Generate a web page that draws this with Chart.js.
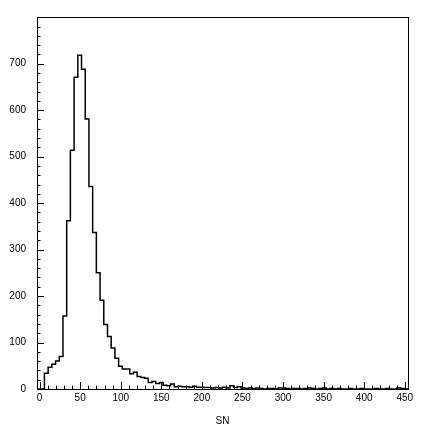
<!DOCTYPE html>
<html>
<head>
<meta charset="utf-8">
<script src="https://cdn.jsdelivr.net/npm/chart.js@4"></script>
<style>
  body { margin: 0; background: #fff; }
  #wrap { width: 432px; height: 430px; }
</style>
</head>
<body>
<div id="wrap"><canvas id="histo" width="432" height="430"></canvas></div>
<script>
// histogram binning (100 bins)
const xMin = -3.2;
const xMax = 454;
const nBins = 100;

// counts per bin
const counts = [
    0, 0, 34, 47, 53, 60, 70, 157, 362, 514,
    671, 718, 688, 581, 436, 337, 250, 191, 139, 113,
    88, 66, 49, 43, 43, 33, 36, 27, 25, 23,
    14, 16, 12, 14, 8, 7, 11, 5, 6, 5,
    5, 4, 6, 4, 4, 3, 3, 2, 3, 2,
    4, 2, 7, 3, 5, 2, 1, 2, 1, 2,
    1, 0, 1, 1, 0, 2, 2, 1, 0, 1,
    1, 0, 1, 2, 1, 0, 1, 2, 0, 1,
    0, 1, 0, 0, 1, 0, 0, 1, 0, 0,
    0, 1, 0, 0, 1, 0, 0, 2, 1, 0
];

const xTickLabels = [0, 50, 100, 150, 200, 250, 300, 350, 400, 450];
const yTickLabels = [0, 100, 200, 300, 400, 500, 600, 700];
const xTitle = 'SN';

const binWidth = (xMax - xMin) / nBins;
const points = counts.map((c, i) => ({ x: xMin + i * binWidth, y: c }));
points.push({ x: xMax, y: counts[counts.length - 1] });

const tickFont = { family: 'Liberation Sans, Arial, sans-serif', size: 10 };

// frame + inward ticks, ROOT style
const framePlugin = {
    id: 'frame',
    afterDraw(chart) {
        const ctx = chart.ctx;
        const a = chart.chartArea;
        const xs = chart.scales.x, ys = chart.scales.y;
        ctx.save();
        ctx.strokeStyle = '#000';
        ctx.lineWidth = 1;
        ctx.strokeRect(Math.round(a.left) + 0.5, Math.round(a.top) + 0.5,
            Math.round(a.right - a.left), Math.round(a.bottom - a.top));
        ctx.beginPath();
        for (let v = 0; v <= 450; v += 10) {
            const px = Math.round(xs.getPixelForValue(v)) + 0.5;
            const len = v % 50 === 0 ? 7 : 3.5;
            ctx.moveTo(px, a.bottom);
            ctx.lineTo(px, a.bottom - len);
        }
        for (let v = 0; v < 800; v += 20) {
            const py = Math.round(ys.getPixelForValue(v)) + 0.5;
            const len = v % 100 === 0 ? 7 : 3.5;
            ctx.moveTo(a.left, py);
            ctx.lineTo(a.left + len, py);
        }
        ctx.stroke();
        ctx.restore();
    }
};

new Chart(document.getElementById('histo'), {
    type: 'line',
    data: {
        datasets: [{
            data: points,
            stepped: 'before',
            borderColor: '#000',
            borderWidth: 1.5,
            pointRadius: 0,
            fill: false
        }]
    },
    options: {
        responsive: false,
        animation: false,
        devicePixelRatio: 1,
        layout: { padding: { left: 0, top: 17, right: 24, bottom: 0 } },
        plugins: { legend: { display: false }, tooltip: { enabled: false } },
        scales: {
            x: {
                type: 'linear',
                min: xMin,
                max: xMax,
                grid: { display: false, drawTicks: false },
                border: { display: false },
                afterBuildTicks: s => { s.ticks = xTickLabels.map(v => ({ value: v })); },
                afterFit: s => { s.height = 41; },
                ticks: { color: '#000', font: tickFont, padding: 3, maxRotation: 0, autoSkip: false },
                title: { display: true, text: xTitle, color: '#000', font: tickFont, padding: { top: 0, bottom: 3 } }
            },
            y: {
                type: 'linear',
                min: 0,
                max: 800.5,
                grid: { display: false, drawTicks: false },
                border: { display: false },
                afterBuildTicks: s => { s.ticks = yTickLabels.map(v => ({ value: v })); },
                afterFit: s => { s.width = 37; },
                ticks: { color: '#000', font: tickFont, padding: 11, autoSkip: false }
            }
        }
    },
    plugins: [framePlugin]
});
</script>
</body>
</html>
